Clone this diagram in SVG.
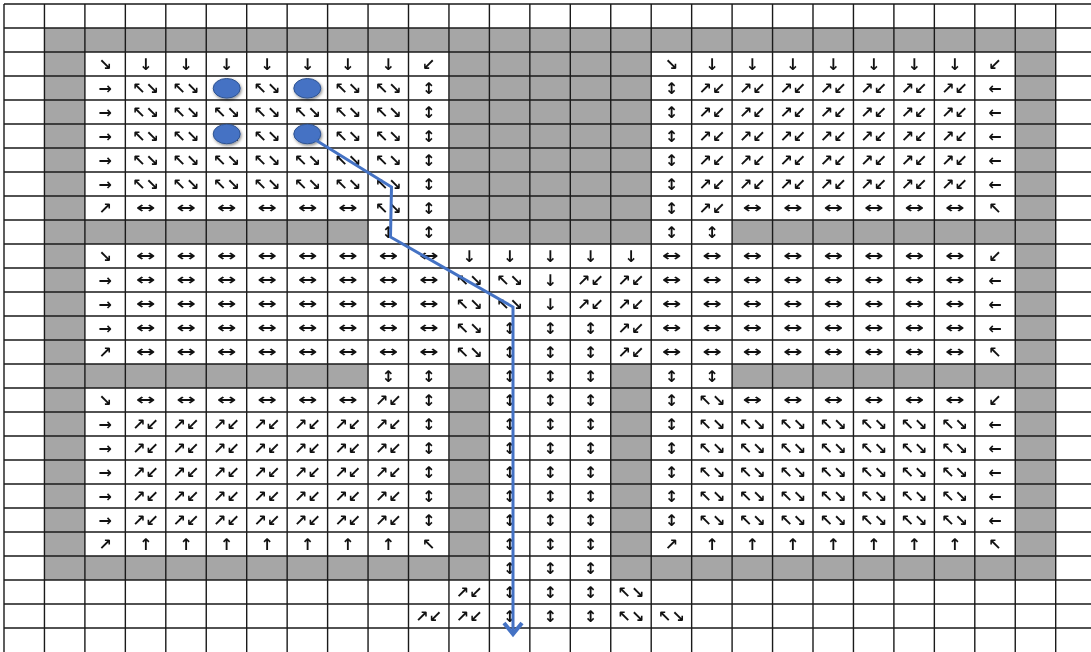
<svg xmlns="http://www.w3.org/2000/svg" width="1091" height="652" viewBox="0 0 1091 652">
<style>
text{font-family:"DejaVu Sans",sans-serif;font-size:16px;font-weight:bold;text-anchor:middle;fill:#111}
.h{transform-box:fill-box;transform-origin:center;transform:scaleX(1.45)}
.g{fill:#a6a6a6}
.grid{stroke:#1a1a1a;stroke-width:1.4;fill:none}
.dot{fill:#4472c4;stroke:#2f528f;stroke-width:1;filter:url(#sh)}
.route{fill:none;stroke:#4472c4;stroke-width:3;stroke-linejoin:miter}
</style>
<defs>
<filter id="sh" x="-50%" y="-50%" width="200%" height="200%"><feDropShadow dx="1" dy="1.5" stdDeviation="1.5" flood-color="#000" flood-opacity="0.45"/></filter>
<filter id="gs" x="0" y="0" width="1091" height="652" filterUnits="userSpaceOnUse"><feOffset dx="0" dy="0"/></filter>
<marker id="ah" markerUnits="userSpaceOnUse" markerWidth="20" markerHeight="24" refX="12" refY="10" orient="auto" overflow="visible"><path d="M1,1 L12,10 L1,19" fill="none" stroke="#4472c4" stroke-width="4"/></marker>
</defs>
<rect width="1091" height="652" fill="#fff"/>
<g id="walls">
<rect class="g" x="44.45" y="28" width="1011.25" height="24"/>
<rect class="g" x="44.45" y="28" width="40.45" height="552"/>
<rect class="g" x="1015.25" y="28" width="40.45" height="552"/>
<rect class="g" x="448.95" y="52" width="202.25" height="192"/>
<rect class="g" x="84.9" y="220" width="283.15" height="24"/>
<rect class="g" x="732.1" y="220" width="283.15" height="24"/>
<rect class="g" x="84.9" y="364" width="283.15" height="24"/>
<rect class="g" x="732.1" y="364" width="283.15" height="24"/>
<rect class="g" x="448.95" y="364" width="40.45" height="216"/>
<rect class="g" x="610.75" y="364" width="40.45" height="216"/>
<rect class="g" x="84.9" y="556" width="364.05" height="24"/>
<rect class="g" x="651.2" y="556" width="364.05" height="24"/>
</g>
<path id="grid" class="grid" d="M4,4V652M44.45,4V652M84.9,4V652M125.35,4V652M165.8,4V652M206.25,4V652M246.7,4V652M287.15,4V652M327.6,4V652M368.05,4V652M408.5,4V652M448.95,4V652M489.4,4V652M529.85,4V652M570.3,4V652M610.75,4V652M651.2,4V652M691.65,4V652M732.1,4V652M772.55,4V652M813,4V652M853.45,4V652M893.9,4V652M934.35,4V652M974.8,4V652M1015.25,4V652M1055.7,4V652M4,4H1091M4,28H1091M4,52H1091M4,76H1091M4,100H1091M4,124H1091M4,148H1091M4,172H1091M4,196H1091M4,220H1091M4,244H1091M4,268H1091M4,292H1091M4,316H1091M4,340H1091M4,364H1091M4,388H1091M4,412H1091M4,436H1091M4,460H1091M4,484H1091M4,508H1091M4,532H1091M4,556H1091M4,580H1091M4,604H1091M4,628H1091"/>
<g id="cells" filter="url(#gs)">
<g id="r2">
<text x="105.1" y="69.5">↘</text><text x="145.6" y="69.5">↓</text><text x="186" y="69.5">↓</text><text x="226.5" y="69.5">↓</text><text x="266.9" y="69.5">↓</text><text x="307.4" y="69.5">↓</text><text x="347.8" y="69.5">↓</text><text x="388.3" y="69.5">↓</text><text x="428.7" y="69.5">↙</text>
<text x="671.4" y="69.5">↘</text><text x="711.9" y="69.5">↓</text><text x="752.3" y="69.5">↓</text><text x="792.8" y="69.5">↓</text><text x="833.2" y="69.5">↓</text><text x="873.7" y="69.5">↓</text><text x="914.1" y="69.5">↓</text><text x="954.6" y="69.5">↓</text><text x="995" y="69.5">↙</text>
</g>
<g id="r3">
<text x="105.1" y="93.5">→</text><text x="145.6" y="93.5">↖↘</text><text x="186" y="93.5">↖↘</text><text x="226.5" y="93.5">↖↘</text><text x="266.9" y="93.5">↖↘</text><text x="307.4" y="93.5">↖↘</text><text x="347.8" y="93.5">↖↘</text><text x="388.3" y="93.5">↖↘</text><text x="428.7" y="93.5">↕</text>
<text x="671.4" y="93.5">↕</text><text x="711.9" y="93.5">↗↙</text><text x="752.3" y="93.5">↗↙</text><text x="792.8" y="93.5">↗↙</text><text x="833.2" y="93.5">↗↙</text><text x="873.7" y="93.5">↗↙</text><text x="914.1" y="93.5">↗↙</text><text x="954.6" y="93.5">↗↙</text><text x="995" y="93.5">←</text>
</g>
<g id="r4">
<text x="105.1" y="117.5">→</text><text x="145.6" y="117.5">↖↘</text><text x="186" y="117.5">↖↘</text><text x="226.5" y="117.5">↖↘</text><text x="266.9" y="117.5">↖↘</text><text x="307.4" y="117.5">↖↘</text><text x="347.8" y="117.5">↖↘</text><text x="388.3" y="117.5">↖↘</text><text x="428.7" y="117.5">↕</text>
<text x="671.4" y="117.5">↕</text><text x="711.9" y="117.5">↗↙</text><text x="752.3" y="117.5">↗↙</text><text x="792.8" y="117.5">↗↙</text><text x="833.2" y="117.5">↗↙</text><text x="873.7" y="117.5">↗↙</text><text x="914.1" y="117.5">↗↙</text><text x="954.6" y="117.5">↗↙</text><text x="995" y="117.5">←</text>
</g>
<g id="r5">
<text x="105.1" y="141.5">→</text><text x="145.6" y="141.5">↖↘</text><text x="186" y="141.5">↖↘</text><text x="226.5" y="141.5">↖↘</text><text x="266.9" y="141.5">↖↘</text><text x="307.4" y="141.5">↖↘</text><text x="347.8" y="141.5">↖↘</text><text x="388.3" y="141.5">↖↘</text><text x="428.7" y="141.5">↕</text>
<text x="671.4" y="141.5">↕</text><text x="711.9" y="141.5">↗↙</text><text x="752.3" y="141.5">↗↙</text><text x="792.8" y="141.5">↗↙</text><text x="833.2" y="141.5">↗↙</text><text x="873.7" y="141.5">↗↙</text><text x="914.1" y="141.5">↗↙</text><text x="954.6" y="141.5">↗↙</text><text x="995" y="141.5">←</text>
</g>
<g id="r6">
<text x="105.1" y="165.5">→</text><text x="145.6" y="165.5">↖↘</text><text x="186" y="165.5">↖↘</text><text x="226.5" y="165.5">↖↘</text><text x="266.9" y="165.5">↖↘</text><text x="307.4" y="165.5">↖↘</text><text x="347.8" y="165.5">↖↘</text><text x="388.3" y="165.5">↖↘</text><text x="428.7" y="165.5">↕</text>
<text x="671.4" y="165.5">↕</text><text x="711.9" y="165.5">↗↙</text><text x="752.3" y="165.5">↗↙</text><text x="792.8" y="165.5">↗↙</text><text x="833.2" y="165.5">↗↙</text><text x="873.7" y="165.5">↗↙</text><text x="914.1" y="165.5">↗↙</text><text x="954.6" y="165.5">↗↙</text><text x="995" y="165.5">←</text>
</g>
<g id="r7">
<text x="105.1" y="189.5">→</text><text x="145.6" y="189.5">↖↘</text><text x="186" y="189.5">↖↘</text><text x="226.5" y="189.5">↖↘</text><text x="266.9" y="189.5">↖↘</text><text x="307.4" y="189.5">↖↘</text><text x="347.8" y="189.5">↖↘</text><text x="388.3" y="189.5">↖↘</text><text x="428.7" y="189.5">↕</text>
<text x="671.4" y="189.5">↕</text><text x="711.9" y="189.5">↗↙</text><text x="752.3" y="189.5">↗↙</text><text x="792.8" y="189.5">↗↙</text><text x="833.2" y="189.5">↗↙</text><text x="873.7" y="189.5">↗↙</text><text x="914.1" y="189.5">↗↙</text><text x="954.6" y="189.5">↗↙</text><text x="995" y="189.5">←</text>
</g>
<g id="r8">
<text x="105.1" y="213.5">↗</text><text class="h" x="145.6" y="213.5">↔</text><text class="h" x="186" y="213.5">↔</text><text class="h" x="226.5" y="213.5">↔</text><text class="h" x="266.9" y="213.5">↔</text><text class="h" x="307.4" y="213.5">↔</text><text class="h" x="347.8" y="213.5">↔</text><text x="388.3" y="213.5">↖↘</text><text x="428.7" y="213.5">↕</text>
<text x="671.4" y="213.5">↕</text><text x="711.9" y="213.5">↗↙</text><text class="h" x="752.3" y="213.5">↔</text><text class="h" x="792.8" y="213.5">↔</text><text class="h" x="833.2" y="213.5">↔</text><text class="h" x="873.7" y="213.5">↔</text><text class="h" x="914.1" y="213.5">↔</text><text class="h" x="954.6" y="213.5">↔</text><text x="995" y="213.5">↖</text>
</g>
<g id="r9">
<text x="388.3" y="237.5">↕</text><text x="428.7" y="237.5">↕</text><text x="671.4" y="237.5">↕</text><text x="711.9" y="237.5">↕</text>
</g>
<g id="r10">
<text x="105.1" y="261.5">↘</text><text class="h" x="145.6" y="261.5">↔</text><text class="h" x="186" y="261.5">↔</text><text class="h" x="226.5" y="261.5">↔</text><text class="h" x="266.9" y="261.5">↔</text><text class="h" x="307.4" y="261.5">↔</text><text class="h" x="347.8" y="261.5">↔</text><text class="h" x="388.3" y="261.5">↔</text><text class="h" x="428.7" y="261.5">↔</text>
<text x="469.2" y="261.5">↓</text><text x="509.6" y="261.5">↓</text><text x="550.1" y="261.5">↓</text><text x="590.5" y="261.5">↓</text><text x="631" y="261.5">↓</text>
<text class="h" x="671.4" y="261.5">↔</text><text class="h" x="711.9" y="261.5">↔</text><text class="h" x="752.3" y="261.5">↔</text><text class="h" x="792.8" y="261.5">↔</text><text class="h" x="833.2" y="261.5">↔</text><text class="h" x="873.7" y="261.5">↔</text><text class="h" x="914.1" y="261.5">↔</text><text class="h" x="954.6" y="261.5">↔</text><text x="995" y="261.5">↙</text>
</g>
<g id="r11">
<text x="105.1" y="285.5">→</text><text class="h" x="145.6" y="285.5">↔</text><text class="h" x="186" y="285.5">↔</text><text class="h" x="226.5" y="285.5">↔</text><text class="h" x="266.9" y="285.5">↔</text><text class="h" x="307.4" y="285.5">↔</text><text class="h" x="347.8" y="285.5">↔</text><text class="h" x="388.3" y="285.5">↔</text><text class="h" x="428.7" y="285.5">↔</text>
<text x="469.2" y="285.5">↖↘</text><text x="509.6" y="285.5">↖↘</text><text x="550.1" y="285.5">↓</text><text x="590.5" y="285.5">↗↙</text><text x="631" y="285.5">↗↙</text>
<text class="h" x="671.4" y="285.5">↔</text><text class="h" x="711.9" y="285.5">↔</text><text class="h" x="752.3" y="285.5">↔</text><text class="h" x="792.8" y="285.5">↔</text><text class="h" x="833.2" y="285.5">↔</text><text class="h" x="873.7" y="285.5">↔</text><text class="h" x="914.1" y="285.5">↔</text><text class="h" x="954.6" y="285.5">↔</text><text x="995" y="285.5">←</text>
</g>
<g id="r12">
<text x="105.1" y="309.5">→</text><text class="h" x="145.6" y="309.5">↔</text><text class="h" x="186" y="309.5">↔</text><text class="h" x="226.5" y="309.5">↔</text><text class="h" x="266.9" y="309.5">↔</text><text class="h" x="307.4" y="309.5">↔</text><text class="h" x="347.8" y="309.5">↔</text><text class="h" x="388.3" y="309.5">↔</text><text class="h" x="428.7" y="309.5">↔</text>
<text x="469.2" y="309.5">↖↘</text><text x="509.6" y="309.5">↖↘</text><text x="550.1" y="309.5">↓</text><text x="590.5" y="309.5">↗↙</text><text x="631" y="309.5">↗↙</text>
<text class="h" x="671.4" y="309.5">↔</text><text class="h" x="711.9" y="309.5">↔</text><text class="h" x="752.3" y="309.5">↔</text><text class="h" x="792.8" y="309.5">↔</text><text class="h" x="833.2" y="309.5">↔</text><text class="h" x="873.7" y="309.5">↔</text><text class="h" x="914.1" y="309.5">↔</text><text class="h" x="954.6" y="309.5">↔</text><text x="995" y="309.5">←</text>
</g>
<g id="r13">
<text x="105.1" y="333.5">→</text><text class="h" x="145.6" y="333.5">↔</text><text class="h" x="186" y="333.5">↔</text><text class="h" x="226.5" y="333.5">↔</text><text class="h" x="266.9" y="333.5">↔</text><text class="h" x="307.4" y="333.5">↔</text><text class="h" x="347.8" y="333.5">↔</text><text class="h" x="388.3" y="333.5">↔</text><text class="h" x="428.7" y="333.5">↔</text>
<text x="469.2" y="333.5">↖↘</text><text x="509.6" y="333.5">↕</text><text x="550.1" y="333.5">↕</text><text x="590.5" y="333.5">↕</text><text x="631" y="333.5">↗↙</text>
<text class="h" x="671.4" y="333.5">↔</text><text class="h" x="711.9" y="333.5">↔</text><text class="h" x="752.3" y="333.5">↔</text><text class="h" x="792.8" y="333.5">↔</text><text class="h" x="833.2" y="333.5">↔</text><text class="h" x="873.7" y="333.5">↔</text><text class="h" x="914.1" y="333.5">↔</text><text class="h" x="954.6" y="333.5">↔</text><text x="995" y="333.5">←</text>
</g>
<g id="r14">
<text x="105.1" y="357.5">↗</text><text class="h" x="145.6" y="357.5">↔</text><text class="h" x="186" y="357.5">↔</text><text class="h" x="226.5" y="357.5">↔</text><text class="h" x="266.9" y="357.5">↔</text><text class="h" x="307.4" y="357.5">↔</text><text class="h" x="347.8" y="357.5">↔</text><text class="h" x="388.3" y="357.5">↔</text><text class="h" x="428.7" y="357.5">↔</text>
<text x="469.2" y="357.5">↖↘</text><text x="509.6" y="357.5">↕</text><text x="550.1" y="357.5">↕</text><text x="590.5" y="357.5">↕</text><text x="631" y="357.5">↗↙</text>
<text class="h" x="671.4" y="357.5">↔</text><text class="h" x="711.9" y="357.5">↔</text><text class="h" x="752.3" y="357.5">↔</text><text class="h" x="792.8" y="357.5">↔</text><text class="h" x="833.2" y="357.5">↔</text><text class="h" x="873.7" y="357.5">↔</text><text class="h" x="914.1" y="357.5">↔</text><text class="h" x="954.6" y="357.5">↔</text><text x="995" y="357.5">↖</text>
</g>
<g id="r15">
<text x="388.3" y="381.5">↕</text><text x="428.7" y="381.5">↕</text><text x="509.6" y="381.5">↕</text><text x="550.1" y="381.5">↕</text><text x="590.5" y="381.5">↕</text><text x="671.4" y="381.5">↕</text><text x="711.9" y="381.5">↕</text>
</g>
<g id="r16">
<text x="105.1" y="405.5">↘</text><text class="h" x="145.6" y="405.5">↔</text><text class="h" x="186" y="405.5">↔</text><text class="h" x="226.5" y="405.5">↔</text><text class="h" x="266.9" y="405.5">↔</text><text class="h" x="307.4" y="405.5">↔</text><text class="h" x="347.8" y="405.5">↔</text><text x="388.3" y="405.5">↗↙</text><text x="428.7" y="405.5">↕</text>
<text x="509.6" y="405.5">↕</text><text x="550.1" y="405.5">↕</text><text x="590.5" y="405.5">↕</text>
<text x="671.4" y="405.5">↕</text><text x="711.9" y="405.5">↖↘</text><text class="h" x="752.3" y="405.5">↔</text><text class="h" x="792.8" y="405.5">↔</text><text class="h" x="833.2" y="405.5">↔</text><text class="h" x="873.7" y="405.5">↔</text><text class="h" x="914.1" y="405.5">↔</text><text class="h" x="954.6" y="405.5">↔</text><text x="995" y="405.5">↙</text>
</g>
<g id="r17">
<text x="105.1" y="429.5">→</text><text x="145.6" y="429.5">↗↙</text><text x="186" y="429.5">↗↙</text><text x="226.5" y="429.5">↗↙</text><text x="266.9" y="429.5">↗↙</text><text x="307.4" y="429.5">↗↙</text><text x="347.8" y="429.5">↗↙</text><text x="388.3" y="429.5">↗↙</text><text x="428.7" y="429.5">↕</text>
<text x="509.6" y="429.5">↕</text><text x="550.1" y="429.5">↕</text><text x="590.5" y="429.5">↕</text>
<text x="671.4" y="429.5">↕</text><text x="711.9" y="429.5">↖↘</text><text x="752.3" y="429.5">↖↘</text><text x="792.8" y="429.5">↖↘</text><text x="833.2" y="429.5">↖↘</text><text x="873.7" y="429.5">↖↘</text><text x="914.1" y="429.5">↖↘</text><text x="954.6" y="429.5">↖↘</text><text x="995" y="429.5">←</text>
</g>
<g id="r18">
<text x="105.1" y="453.5">→</text><text x="145.6" y="453.5">↗↙</text><text x="186" y="453.5">↗↙</text><text x="226.5" y="453.5">↗↙</text><text x="266.9" y="453.5">↗↙</text><text x="307.4" y="453.5">↗↙</text><text x="347.8" y="453.5">↗↙</text><text x="388.3" y="453.5">↗↙</text><text x="428.7" y="453.5">↕</text>
<text x="509.6" y="453.5">↕</text><text x="550.1" y="453.5">↕</text><text x="590.5" y="453.5">↕</text>
<text x="671.4" y="453.5">↕</text><text x="711.9" y="453.5">↖↘</text><text x="752.3" y="453.5">↖↘</text><text x="792.8" y="453.5">↖↘</text><text x="833.2" y="453.5">↖↘</text><text x="873.7" y="453.5">↖↘</text><text x="914.1" y="453.5">↖↘</text><text x="954.6" y="453.5">↖↘</text><text x="995" y="453.5">←</text>
</g>
<g id="r19">
<text x="105.1" y="477.5">→</text><text x="145.6" y="477.5">↗↙</text><text x="186" y="477.5">↗↙</text><text x="226.5" y="477.5">↗↙</text><text x="266.9" y="477.5">↗↙</text><text x="307.4" y="477.5">↗↙</text><text x="347.8" y="477.5">↗↙</text><text x="388.3" y="477.5">↗↙</text><text x="428.7" y="477.5">↕</text>
<text x="509.6" y="477.5">↕</text><text x="550.1" y="477.5">↕</text><text x="590.5" y="477.5">↕</text>
<text x="671.4" y="477.5">↕</text><text x="711.9" y="477.5">↖↘</text><text x="752.3" y="477.5">↖↘</text><text x="792.8" y="477.5">↖↘</text><text x="833.2" y="477.5">↖↘</text><text x="873.7" y="477.5">↖↘</text><text x="914.1" y="477.5">↖↘</text><text x="954.6" y="477.5">↖↘</text><text x="995" y="477.5">←</text>
</g>
<g id="r20">
<text x="105.1" y="501.5">→</text><text x="145.6" y="501.5">↗↙</text><text x="186" y="501.5">↗↙</text><text x="226.5" y="501.5">↗↙</text><text x="266.9" y="501.5">↗↙</text><text x="307.4" y="501.5">↗↙</text><text x="347.8" y="501.5">↗↙</text><text x="388.3" y="501.5">↗↙</text><text x="428.7" y="501.5">↕</text>
<text x="509.6" y="501.5">↕</text><text x="550.1" y="501.5">↕</text><text x="590.5" y="501.5">↕</text>
<text x="671.4" y="501.5">↕</text><text x="711.9" y="501.5">↖↘</text><text x="752.3" y="501.5">↖↘</text><text x="792.8" y="501.5">↖↘</text><text x="833.2" y="501.5">↖↘</text><text x="873.7" y="501.5">↖↘</text><text x="914.1" y="501.5">↖↘</text><text x="954.6" y="501.5">↖↘</text><text x="995" y="501.5">←</text>
</g>
<g id="r21">
<text x="105.1" y="525.5">→</text><text x="145.6" y="525.5">↗↙</text><text x="186" y="525.5">↗↙</text><text x="226.5" y="525.5">↗↙</text><text x="266.9" y="525.5">↗↙</text><text x="307.4" y="525.5">↗↙</text><text x="347.8" y="525.5">↗↙</text><text x="388.3" y="525.5">↗↙</text><text x="428.7" y="525.5">↕</text>
<text x="509.6" y="525.5">↕</text><text x="550.1" y="525.5">↕</text><text x="590.5" y="525.5">↕</text>
<text x="671.4" y="525.5">↕</text><text x="711.9" y="525.5">↖↘</text><text x="752.3" y="525.5">↖↘</text><text x="792.8" y="525.5">↖↘</text><text x="833.2" y="525.5">↖↘</text><text x="873.7" y="525.5">↖↘</text><text x="914.1" y="525.5">↖↘</text><text x="954.6" y="525.5">↖↘</text><text x="995" y="525.5">←</text>
</g>
<g id="r22">
<text x="105.1" y="549.5">↗</text><text x="145.6" y="549.5">↑</text><text x="186" y="549.5">↑</text><text x="226.5" y="549.5">↑</text><text x="266.9" y="549.5">↑</text><text x="307.4" y="549.5">↑</text><text x="347.8" y="549.5">↑</text><text x="388.3" y="549.5">↑</text><text x="428.7" y="549.5">↖</text>
<text x="509.6" y="549.5">↕</text><text x="550.1" y="549.5">↕</text><text x="590.5" y="549.5">↕</text>
<text x="671.4" y="549.5">↗</text><text x="711.9" y="549.5">↑</text><text x="752.3" y="549.5">↑</text><text x="792.8" y="549.5">↑</text><text x="833.2" y="549.5">↑</text><text x="873.7" y="549.5">↑</text><text x="914.1" y="549.5">↑</text><text x="954.6" y="549.5">↑</text><text x="995" y="549.5">↖</text>
</g>
<g id="r23">
<text x="509.6" y="573.5">↕</text><text x="550.1" y="573.5">↕</text><text x="590.5" y="573.5">↕</text>
</g>
<g id="r24">
<text x="469.2" y="597.5">↗↙</text><text x="509.6" y="597.5">↕</text><text x="550.1" y="597.5">↕</text><text x="590.5" y="597.5">↕</text><text x="631" y="597.5">↖↘</text>
</g>
<g id="r25">
<text x="428.7" y="621.5">↗↙</text><text x="469.2" y="621.5">↗↙</text><text x="509.6" y="621.5">↕</text><text x="550.1" y="621.5">↕</text><text x="590.5" y="621.5">↕</text><text x="631" y="621.5">↖↘</text><text x="671.4" y="621.5">↖↘</text>
</g>
</g>
<g id="agent-1"><ellipse class="dot" cx="226.7" cy="88.3" rx="13.5" ry="9.8"/></g>
<g id="agent-2"><ellipse class="dot" cx="307.3" cy="88.3" rx="13.5" ry="9.8"/></g>
<g id="agent-3"><ellipse class="dot" cx="226.7" cy="134" rx="13.5" ry="9.8"/></g>
<g id="agent-4"><ellipse class="dot" cx="307.3" cy="134" rx="13.5" ry="9.8"/></g>
<g id="connectors">
<path class="route" d="M314,139 L391.5,187 L390.5,237 L513,307 L513,634" marker-end="url(#ah)"/>
</g>
</svg>
